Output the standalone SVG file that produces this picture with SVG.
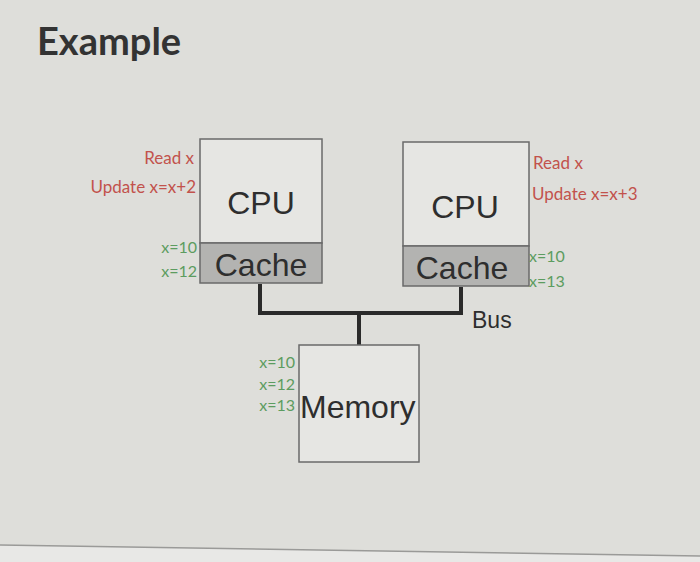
<svg xmlns="http://www.w3.org/2000/svg" width="700" height="562" viewBox="0 0 700 562">
<style>
.box{fill:#e6e6e3;stroke:#6a6a6a;stroke-width:1.5}
.cache{fill:#b3b3b1;stroke:#6a6a6a;stroke-width:1.5}
.big{font-family:"Liberation Sans",Arial,sans-serif;font-size:32px;fill:#2e2e2e}
.red{font-family:Lato,"Open Sans",sans-serif;font-size:17px;fill:#c2524c}
.grn{font-family:Lato,"Open Sans",sans-serif;font-size:16px;fill:#5c9c60}
.bus{fill:none;stroke:#2a2a2a;stroke-width:4}
</style>
<rect x="0" y="0" width="700" height="562" fill="#dedeDa"/>
<polygon points="0,545 700,556 700,562 0,562" fill="#e8e8e6"/>
<line x1="0" y1="545" x2="700" y2="556" stroke="#9a9a98" stroke-width="1.5"/>
<text x="37" y="55" font-family="Lato,'Open Sans',sans-serif" font-weight="bold" font-size="38" fill="#333">Example</text>
<g id="connectors">
<polyline class="bus" points="260,284 260,313 461,313 461,287"/>
<line class="bus" x1="359" y1="313" x2="359" y2="345"/>
</g>
<g id="cpu1">
<rect class="box" x="200" y="139" width="122" height="104"/>
<rect class="cache" x="200" y="243" width="122" height="40"/>
<text class="big" x="261" y="214" text-anchor="middle">CPU</text>
<text class="big" x="261" y="276" text-anchor="middle">Cache</text>
<text class="red" x="194" y="164" text-anchor="end">Read x</text>
<text class="red" x="196" y="193" text-anchor="end">Update x=x+2</text>
<text class="grn" x="197" y="253" text-anchor="end">x=10</text>
<text class="grn" x="197" y="277" text-anchor="end">x=12</text>
</g>
<g id="cpu2">
<rect class="box" x="403" y="142" width="126" height="104"/>
<rect class="cache" x="403" y="246" width="126" height="40"/>
<text class="big" x="465" y="218" text-anchor="middle">CPU</text>
<text class="big" x="462" y="279" text-anchor="middle">Cache</text>
<text class="red" x="533" y="169">Read x</text>
<text class="red" x="532" y="200">Update x=x+3</text>
<text class="grn" x="529" y="262">x=10</text>
<text class="grn" x="529" y="287">x=13</text>
</g>
<g id="bus-label">
<text x="472" y="328" font-family="'Liberation Sans',Arial,sans-serif" font-size="23" fill="#2e2e2e">Bus</text>
</g>
<g id="memory">
<rect class="box" x="299" y="345" width="120" height="117"/>
<text class="big" x="300" y="418">Memory</text>
<text class="grn" x="295" y="368" text-anchor="end">x=10</text>
<text class="grn" x="295" y="390" text-anchor="end">x=12</text>
<text class="grn" x="295" y="411" text-anchor="end">x=13</text>
</g>
</svg>
